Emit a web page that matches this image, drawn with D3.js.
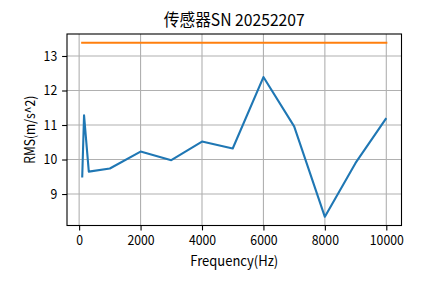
<!DOCTYPE html>
<html>
<head>
<meta charset="utf-8">
<script src="https://cdn.jsdelivr.net/npm/d3@7"></script>
<style>
  body { margin: 0; background: #fff; }
  text { font-family: "Noto Sans CJK SC", sans-serif; fill: #000; }
</style>
</head>
<body>
<svg id="chart" width="445" height="283"></svg>
<script>
// measured RMS per frequency
const freqs = [100, 160, 315, 1000, 2000, 3000, 4000, 5000, 6000, 7000, 8000, 9000, 10000];
const rmsValues = [9.48, 11.28, 9.65, 9.74, 10.23, 9.98, 10.52, 10.32, 12.39, 10.96, 8.34, 9.9, 11.2];
// limit line
const limitFreqs = [100, 10000];
const limitValues = [13.385, 13.385];
const xTicks = [0, 2000, 4000, 6000, 8000, 10000];
const yTicks = [9, 10, 11, 12, 13];

const svg = d3.select("#chart");
const margin = { left: 67, right: 43.5, top: 34, bottom: 57.5 };
const width = 445 - margin.left - margin.right;
const height = 283 - margin.top - margin.bottom;

// matplotlib style 5% padding on data range
const pad = (lo, hi) => [lo - (hi - lo) * 0.05, hi + (hi - lo) * 0.05];
const allY = rmsValues.concat(limitValues);
const x = d3.scaleLinear().domain(pad(d3.min(freqs), d3.max(freqs))).range([0, width]);
const y = d3.scaleLinear().domain(pad(d3.min(allY), d3.max(allY))).range([height, 0]);

const g = svg.append("g").attr("transform", `translate(${margin.left},${margin.top})`);

// grid
g.append("g").selectAll("line").data(xTicks).join("line")
  .attr("x1", (d) => x(d)).attr("x2", (d) => x(d))
  .attr("y1", 0).attr("y2", height)
  .attr("stroke", "#b0b0b0").attr("stroke-width", 1.1);
g.append("g").selectAll("line").data(yTicks).join("line")
  .attr("y1", (d) => y(d)).attr("y2", (d) => y(d))
  .attr("x1", 0).attr("x2", width)
  .attr("stroke", "#b0b0b0").attr("stroke-width", 1.1);

// lines
const line = d3.line().x((d) => x(d[0])).y((d) => y(d[1]));
g.append("path")
  .datum(d3.zip(freqs, rmsValues))
  .attr("d", line)
  .attr("fill", "none").attr("stroke", "#1f77b4").attr("stroke-width", 2.1)
  .attr("stroke-linejoin", "round");
g.append("path")
  .datum(d3.zip(limitFreqs, limitValues))
  .attr("d", line)
  .attr("fill", "none").attr("stroke", "#ff7f0e").attr("stroke-width", 2.1)
  .attr("stroke-linecap", "square");

// axes
const xAxis = g.append("g").attr("transform", `translate(0,${height})`)
  .call(d3.axisBottom(x).tickValues(xTicks).tickSize(4.9).tickPadding(4.9).tickFormat(d3.format("d")));
const yAxis = g.append("g")
  .call(d3.axisLeft(y).tickValues(yTicks).tickSize(4.9).tickPadding(4.9).tickFormat(d3.format("d")));
[xAxis, yAxis].forEach((a) => {
  a.select(".domain").remove();
  a.selectAll(".tick line").attr("stroke", "#000").attr("stroke-width", 1.1);
  // half-width digits like the reference font
  a.selectAll(".tick text")
    .attr("font-size", 13.9).attr("font-family", "Noto Sans CJK SC")
    .attr("textLength", function () { return this.textContent.length * 6.8; })
    .attr("lengthAdjust", "spacingAndGlyphs");
});

// frame
g.append("rect").attr("width", width).attr("height", height)
  .attr("fill", "none").attr("stroke", "#000").attr("stroke-width", 1.1);

// labels
svg.append("text")
  .attr("x", margin.left + width / 2).attr("y", 26)
  .attr("text-anchor", "middle").attr("font-size", 16.7)
  .attr("textLength", 141).attr("lengthAdjust", "spacingAndGlyphs")
  .text("传感器SN 20252207");
svg.append("text")
  .attr("x", margin.left + width / 2).attr("y", 265.5)
  .attr("text-anchor", "middle").attr("font-size", 13.9)
  .attr("textLength", 88).attr("lengthAdjust", "spacingAndGlyphs")
  .text("Frequency(Hz)");
svg.append("text")
  .attr("transform", `translate(35,${margin.top + height / 2}) rotate(-90)`)
  .attr("text-anchor", "middle").attr("font-size", 13.9)
  .attr("textLength", 68).attr("lengthAdjust", "spacingAndGlyphs")
  .text("RMS(m/s^2)");
</script>
</body>
</html>
